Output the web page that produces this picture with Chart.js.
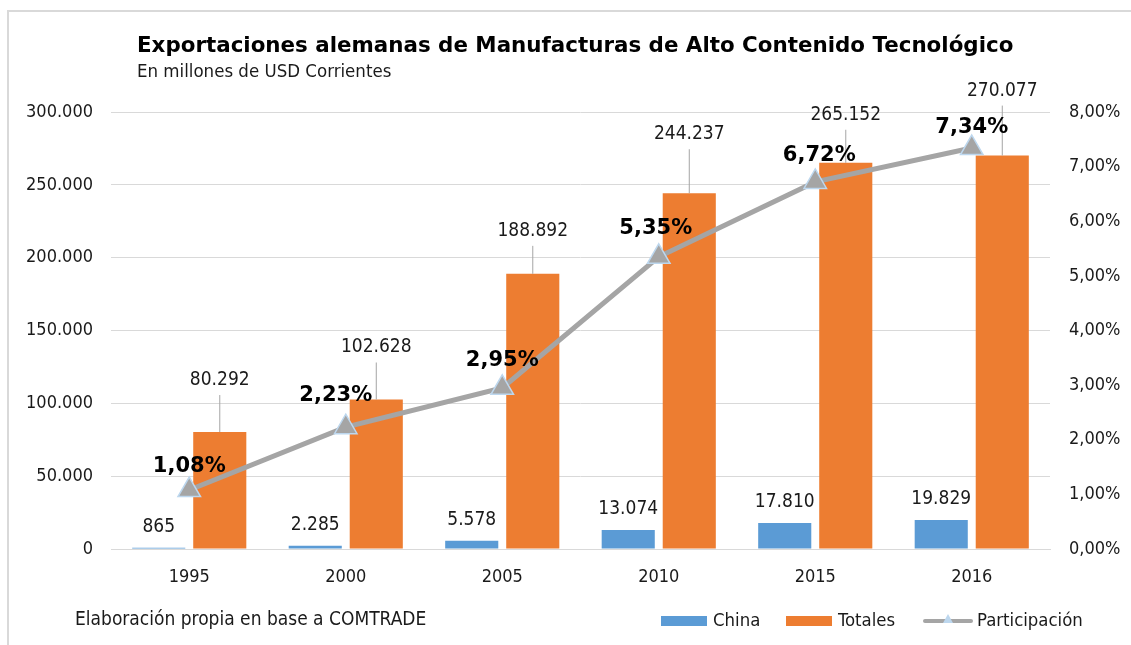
<!DOCTYPE html>
<html>
<head>
<meta charset="utf-8">
<script src="https://cdn.jsdelivr.net/npm/chart.js@4"></script>
<style>
  body { margin: 0; background: #fff; }
  #wrap { width: 1131px; height: 645px; position: relative; }
</style>
</head>
<body>
<div id="wrap"><canvas id="grafico"></canvas></div>
<script>
const anos = ['1995', '2000', '2005', '2010', '2015', '2016'];
const china = [865, 2285, 5578, 13074, 17810, 19829];
const totales = [80292, 102628, 188892, 244237, 265152, 270077];
const participacion = [1.08, 2.23, 2.95, 5.35, 6.72, 7.34];
const ticksIzq = [0, 50000, 100000, 150000, 200000, 250000, 300000];
const ticksDer = [0, 1, 2, 3, 4, 5, 6, 7, 8];

const FUENTE = '"DejaVu Sans Condensed", "DejaVu Sans", sans-serif';
const NEGRITA = '"DejaVu Sans", sans-serif';
const AZUL = '#5B9BD5', NARANJA = '#ED7D31', GRIS = '#A5A5A5';

function miles(v) {
  return String(v).replace(/\B(?=(\d{3})+(?!\d))/g, '.');
}
function pct(v) {
  return v.toFixed(2).replace('.', ',') + '%';
}

// separacion de las etiquetas respecto a la marca (px), como en el original
const desplTotales = [52, 52, 43, 59, 48, 65];
const desplPctX = [0, -10, 0, -3, 4, 0];
const desplPctY = [-23, -32, -27, -28, -26, -21];

const extras = {
  id: 'extras',
  afterDatasetsDraw(chart) {
    const ctx = chart.ctx;
    ctx.save();
    // etiquetas de China
    ctx.fillStyle = '#1a1a1a';
    ctx.font = '19px ' + FUENTE;
    ctx.textAlign = 'center';
    ctx.textBaseline = 'middle';
    chart.getDatasetMeta(0).data.forEach((b, i) => {
      ctx.fillText(miles(china[i]), b.x, b.y - 21);
    });
    // etiquetas de Totales con linea guia
    chart.getDatasetMeta(1).data.forEach((b, i) => {
      const ly = b.y - desplTotales[i];
      ctx.strokeStyle = GRIS;
      ctx.lineWidth = 1;
      ctx.beginPath();
      ctx.moveTo(b.x, ly + 15);
      ctx.lineTo(b.x, b.y);
      ctx.stroke();
      ctx.fillText(miles(totales[i]), b.x, ly);
    });
    ctx.restore();
  },
  afterDraw(chart) {
    const ctx = chart.ctx;
    ctx.save();
    // porcentajes
    ctx.fillStyle = '#000';
    ctx.font = 'bold 21px ' + NEGRITA;
    ctx.textAlign = 'center';
    ctx.textBaseline = 'middle';
    chart.getDatasetMeta(2).data.forEach((p, i) => {
      ctx.fillText(pct(participacion[i]), p.x + desplPctX[i], p.y + desplPctY[i]);
    });
    // titulo
    ctx.textAlign = 'left';
    ctx.font = 'bold 21.4px ' + NEGRITA;
    ctx.fillText('Exportaciones alemanas de Manufacturas de Alto Contenido Tecnológico', 137, 46);
    ctx.fillStyle = '#1a1a1a';
    ctx.font = '18.5px ' + FUENTE;
    ctx.fillText('En millones de USD Corrientes', 137, 72);
    ctx.font = '19px ' + FUENTE;
    ctx.fillText('Elaboración propia en base a COMTRADE', 75, 620);
    // leyenda
    ctx.font = '18.4px ' + FUENTE;
    ctx.fillStyle = AZUL;
    ctx.fillRect(661, 616, 46, 10);
    ctx.fillStyle = '#1a1a1a';
    ctx.fillText('China', 713, 621);
    ctx.fillStyle = NARANJA;
    ctx.fillRect(786, 616, 46, 10);
    ctx.fillStyle = '#1a1a1a';
    ctx.fillText('Totales', 838, 621);
    ctx.strokeStyle = GRIS;
    ctx.lineWidth = 4;
    ctx.lineCap = 'round';
    ctx.beginPath();
    ctx.moveTo(925, 621);
    ctx.lineTo(971, 621);
    ctx.stroke();
    ctx.fillStyle = '#BDD7EE';
    ctx.beginPath();
    ctx.moveTo(948, 614);
    ctx.lineTo(953, 623);
    ctx.lineTo(943, 623);
    ctx.closePath();
    ctx.fill();
    ctx.fillStyle = '#1a1a1a';
    ctx.fillText('Participación', 977, 621);
    // borde
    ctx.strokeStyle = '#D9D9D9';
    ctx.lineWidth = 2;
    ctx.lineCap = 'butt';
    ctx.beginPath();
    ctx.moveTo(8, 645);
    ctx.lineTo(8, 11);
    ctx.lineTo(1131, 11);
    ctx.stroke();
    ctx.restore();
  }
};

new Chart(document.getElementById('grafico'), {
  data: {
    labels: anos,
    datasets: [
      { type: 'bar', label: 'China', data: china, backgroundColor: AZUL, yAxisID: 'y', order: 1,
        categoryPercentage: 0.78, barPercentage: 0.87 },
      { type: 'bar', label: 'Totales', data: totales, backgroundColor: NARANJA, yAxisID: 'y', order: 1,
        categoryPercentage: 0.78, barPercentage: 0.87 },
      { type: 'line', label: 'Participación', data: participacion, yAxisID: 'y1', order: 0,
        borderColor: GRIS, borderWidth: 5, pointStyle: 'triangle', pointRadius: 13,
        pointBackgroundColor: GRIS, pointBorderColor: '#BDD7EE', pointBorderWidth: 1.5, tension: 0 }
    ]
  },
  options: {
    responsive: true,
    maintainAspectRatio: false,
    animation: false,
    layout: { padding: { top: 112, left: 0, right: 0, bottom: 0 } },
    plugins: { legend: { display: false }, tooltip: { enabled: false }, title: { display: false } },
    scales: {
      x: {
        grid: { display: false },
        border: { color: '#D9D9D9', width: 1 },
        ticks: { color: '#1a1a1a', font: { family: FUENTE, size: 18 }, padding: 10 },
        afterFit(s) { s.height = 96; }
      },
      y: {
        position: 'left',
        min: 0, max: 300000,
        afterBuildTicks(s) { s.ticks = ticksIzq.map(v => ({ value: v })); },
        grid: { color: '#D9D9D9', drawTicks: false },
        border: { display: false },
        ticks: { color: '#1a1a1a', font: { family: FUENTE, size: 18 }, padding: 18, callback: v => miles(v) },
        afterFit(s) { s.width = 111; }
      },
      y1: {
        position: 'right',
        min: 0, max: 8,
        afterBuildTicks(s) { s.ticks = ticksDer.map(v => ({ value: v })); },
        grid: { display: false, drawTicks: false },
        border: { display: false },
        ticks: { color: '#1a1a1a', font: { family: FUENTE, size: 18 }, padding: 19, callback: v => pct(v) },
        afterFit(s) { s.width = 81; }
      }
    }
  },
  plugins: [extras]
});
</script>
</body>
</html>
